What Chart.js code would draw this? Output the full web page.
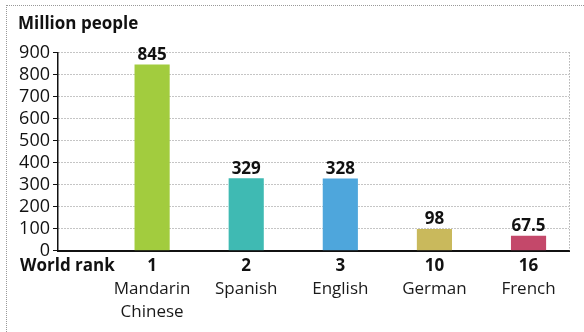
<!DOCTYPE html>
<html>
<head>
<meta charset="utf-8">
<script src="https://cdn.jsdelivr.net/npm/chart.js@4"></script>
<style>
  html, body { margin: 0; padding: 0; background: #fff; }
  #wrap { position: relative; width: 584px; height: 332px; }
  #frame { position: absolute; left: 6px; top: 5px; right: -10px; bottom: -10px;
           border-top: 1px dotted #999; border-left: 1px dotted #999; pointer-events: none; }
</style>
</head>
<body>
<div id="wrap">
  <canvas id="chart" width="584" height="332"></canvas>
  <div id="frame"></div>
</div>
<script>
  // data
  let languages = [['Mandarin', 'Chinese'], 'Spanish', 'English', 'German', 'French'];
  let ranks = ['1', '2', '3', '10', '16'];
  let speakers = [845, 329, 328, 98, 67.5];
  let barColors = ['#a2cc3e', '#3fbab3', '#4ea6dc', '#c9b95c', '#c4486a'];
  let yTicks = [0, 100, 200, 300, 400, 500, 600, 700, 800, 900];
  let rankTitle = 'World rank';

  const ctx = document.getElementById('chart');
  const font = '"Open Sans", "Noto Sans", sans-serif';

  // bar value labels + right dotted frame of the plot
  const valueLabels = {
    id: 'valueLabels',
    afterDatasetsDraw(chart) {
      const c = chart.ctx;
      const area = chart.chartArea;
      c.save();
      c.strokeStyle = '#888';
      c.lineWidth = 1;
      c.setLineDash([1, 2]);
      c.beginPath();
      c.moveTo(area.right + 0.5, area.top);
      c.lineTo(area.right + 0.5, area.bottom);
      c.stroke();
      c.setLineDash([]);
      c.fillStyle = '#111';
      c.font = 'bold 17px ' + font;
      c.textAlign = 'center';
      c.textBaseline = 'bottom';
      chart.getDatasetMeta(0).data.forEach(function (bar, i) {
        c.fillText(String(speakers[i]), bar.x, bar.y - 1);
      });
      c.restore();
    }
  };

  new Chart(ctx, {
    type: 'bar',
    data: {
      datasets: [{
        data: speakers.map(function (v, i) { return {x: i + 1, y: v}; }),
        backgroundColor: barColors,
        borderWidth: 0,
        barPercentage: 0.415,
        categoryPercentage: 1
      }]
    },
    options: {
      responsive: false,
      animation: false,
      layout: { padding: { left: 18, right: 15, top: 0, bottom: 7 } },
      plugins: {
        legend: { display: false },
        tooltip: { enabled: false },
        title: {
          display: true,
          text: 'Million people',
          align: 'start',
          color: '#111',
          font: { family: font, size: 17, weight: 'bold' },
          padding: { top: 14, bottom: 18 }
        }
      },
      scales: {
        x: {
          type: 'linear',
          position: 'bottom',
          weight: 0,
          min: 0,
          max: 5.43,
          offset: false,
          afterFit: function (scale) { scale.height -= 4; },
          afterBuildTicks: function (scale) {
            scale.ticks = [{value: 0.1}].concat(ranks.map(function (r, i) { return {value: i + 1}; }));
          },
          ticks: {
            autoSkip: false,
            maxRotation: 0,
            padding: 5,
            color: '#111',
            font: { family: font, size: 17, weight: 'bold' },
            callback: function (v, i) { return i === 0 ? rankTitle : ranks[i - 1]; }
          },
          grid: { display: false, drawTicks: false },
          border: { display: true, color: '#111', width: 2 }
        },
        x2: {
          type: 'linear',
          position: 'bottom',
          weight: 1,
          min: 0,
          max: 5.43,
          offset: false,
          afterBuildTicks: function (scale) {
            scale.ticks = languages.map(function (l, i) { return {value: i + 1}; });
          },
          ticks: {
            autoSkip: false,
            maxRotation: 0,
            padding: 1,
            color: '#1a1a1a',
            font: { family: font, size: 17, lineHeight: 1.35 },
            callback: function (v, i) { return languages[i]; }
          },
          grid: { display: false, drawTicks: false },
          border: { display: false }
        },
        y: {
          min: 0,
          max: 900,
          afterFit: function (scale) { scale.width = 40; },
          afterBuildTicks: function (scale) {
            scale.ticks = yTicks.map(function (v) { return {value: v}; });
          },
          ticks: {
            autoSkip: false,
            padding: 3,
            color: '#111',
            font: { family: font, size: 18 }
          },
          grid: {
            color: '#8a8a8a',
            tickColor: '#111',
            tickLength: 5,
            tickBorderDash: [],
            lineWidth: 1
          },
          border: { display: true, color: '#111', width: 1.5, dash: [1, 2] }
        }
      }
    },
    plugins: [valueLabels]
  });
</script>
</body>
</html>
